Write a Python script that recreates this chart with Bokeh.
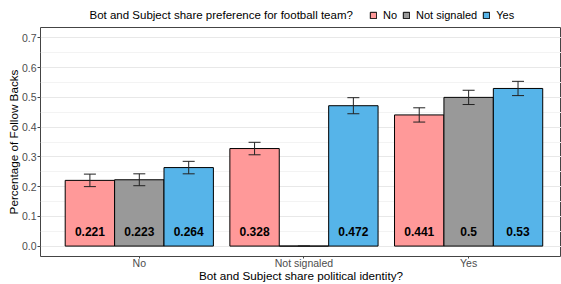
from bokeh.plotting import figure
from bokeh.layouts import column
from bokeh.models import (ColumnDataSource, Range1d, FixedTicker, NumeralTickFormatter,
                          Legend, LegendItem, Whisker, TeeHead, Label)
from bokeh.transform import dodge
from bokeh.core.properties import value
from bokeh.embed import file_html
from bokeh.resources import INLINE

# ---- data ----
political = ["No", "Not signaled", "Yes"]          # x categories
football = ["No", "Not signaled", "Yes"]           # fill groups
rate_no = [0.221, 0.328, 0.441]
rate_not_signaled = [0.223, 0.0, 0.5]
rate_yes = [0.264, 0.472, 0.53]
err_no = [0.021, 0.021, 0.024]
err_not_signaled = [0.020, 0.0, 0.024]
err_yes = [0.021, 0.027, 0.024]
y_ticks = [0.0, 0.1, 0.2, 0.3, 0.4, 0.5, 0.6, 0.7]
legend_title = "Bot and Subject share preference for football team?"

series_rates = [rate_no, rate_not_signaled, rate_yes]
series_errs = [err_no, err_not_signaled, err_yes]
colors = ["#FF9999", "#999999", "#56B4E9"]
FONT = "Liberation Sans"

xs = list(range(1, len(political) + 1))
sources = []
for rates, errs in zip(series_rates, series_errs):
    sources.append(ColumnDataSource(dict(
        x=xs,
        top=rates,
        lower=[r - e for r, e in zip(rates, errs)],
        upper=[r + e for r, e in zip(rates, errs)],
        label=[f"{r:g}" if r > 0 else "" for r in rates],
    )))

# ---- header strip holding the legend (title left of the keys) ----
# its y range lies above all the rates, so the proxy bars fall outside the strip's frame
# and only their legend keys are seen
header = figure(width=561, height=27, output_backend="svg", toolbar_location=None,
                x_range=Range1d(0, 1), y_range=Range1d(1, 2),
                x_axis_location=None, y_axis_location=None,
                min_border_left=0, min_border_right=0, min_border_top=0, min_border_bottom=0)
header.outline_line_color = None
header.grid.visible = False
header.background_fill_color = "white"
header.border_fill_color = "white"
key_renderers = [header.vbar(x="x", top="top", bottom=0, width=0.3, source=s,
                             fill_color=c, line_color="black", line_width=1)
                 for s, c in zip(sources, colors)]
header_legend = Legend(items=[LegendItem(label=f, renderers=[r]) for f, r in zip(football, key_renderers)],
                       orientation="horizontal", location=(329, 6),
                       glyph_width=8, glyph_height=8, label_standoff=6, spacing=5,
                       padding=0, margin=0, label_height=8, label_width=0,
                       border_line_color=None, background_fill_alpha=0,
                       label_text_font=FONT, label_text_font_size="11px", label_text_color="black")
header.add_layout(header_legend, "center")
header.add_layout(Label(x=49, y=12.5, x_units="screen", y_units="screen", text=legend_title,
                        text_font=FONT, text_font_size="11.5px", text_color="black",
                        text_align="left", text_baseline="middle"))

# ---- main plot ----
p = figure(width=561, height=257, output_backend="svg", toolbar_location=None,
           x_range=Range1d(0.4, 3.564), y_range=Range1d(-0.035, 0.735),
           min_border_left=40, min_border_right=0, min_border_top=0, min_border_bottom=28)
p.background_fill_color = "white"
p.border_fill_color = "white"
p.outline_line_color = "#444444"
p.outline_line_width = 1

bar_w = 0.3
for i, (src, col) in enumerate(zip(sources, colors)):
    off = (i - 1) * bar_w
    p.vbar(x=dodge("x", off, range=p.x_range), top="top", bottom=0, width=bar_w,
           source=src, fill_color=col, line_color="black", line_width=1)
    w = Whisker(source=src, base=dodge("x", off, range=p.x_range), lower="lower", upper="upper",
                line_color="#222222", line_width=1, level="annotation",
                upper_head=TeeHead(size=12, line_color="#222222", line_width=1),
                lower_head=TeeHead(size=12, line_color="#222222", line_width=1))
    p.add_layout(w)
    p.text(x=dodge("x", off, range=p.x_range), y=0.05, text="label", source=src,
           text_font=value(FONT), text_font_style="bold", text_font_size="12px",
           text_align="center", text_baseline="middle", text_color="black")

minor = [(a + b) / 2 for a, b in zip(y_ticks[:-1], y_ticks[1:])]
p.yaxis.ticker = FixedTicker(ticks=y_ticks, minor_ticks=minor)
p.yaxis.formatter = NumeralTickFormatter(format="0.0")
p.xaxis.ticker = FixedTicker(ticks=xs)
p.xaxis.major_label_overrides = {x: lab for x, lab in zip(xs, political)}
p.xaxis.axis_label = "Bot and Subject share political identity?"
p.yaxis.axis_label = "Percentage of Follow Backs"
for ax in (p.xaxis[0], p.yaxis[0]):
    ax.axis_line_color = None
    ax.major_tick_line_color = "#444444"
    ax.major_tick_in = 0
    ax.minor_tick_line_color = None
    ax.major_label_text_font = FONT
    ax.major_label_text_font_size = "10.5px"
    ax.major_label_text_color = "#4D4D4D"
    ax.axis_label_text_font = FONT
    ax.axis_label_text_font_size = "11.7px"
    ax.axis_label_text_font_style = "normal"
    ax.axis_label_text_color = "black"
p.yaxis.major_tick_out = 3
p.yaxis.major_label_standoff = 0
p.yaxis.axis_label_standoff = -1
p.xaxis.major_tick_out = 2
p.xaxis.major_label_standoff = -2
p.xaxis.axis_label_standoff = -3

p.xgrid.grid_line_color = None
p.ygrid.grid_line_color = "#E8E8E8"
p.ygrid.grid_line_width = 1
p.ygrid.minor_grid_line_color = "#F3F3F3"
p.ygrid.minor_grid_line_width = 1

layout = column(header, p, spacing=0)
open("out.html", "w").write(file_html(layout, INLINE))
